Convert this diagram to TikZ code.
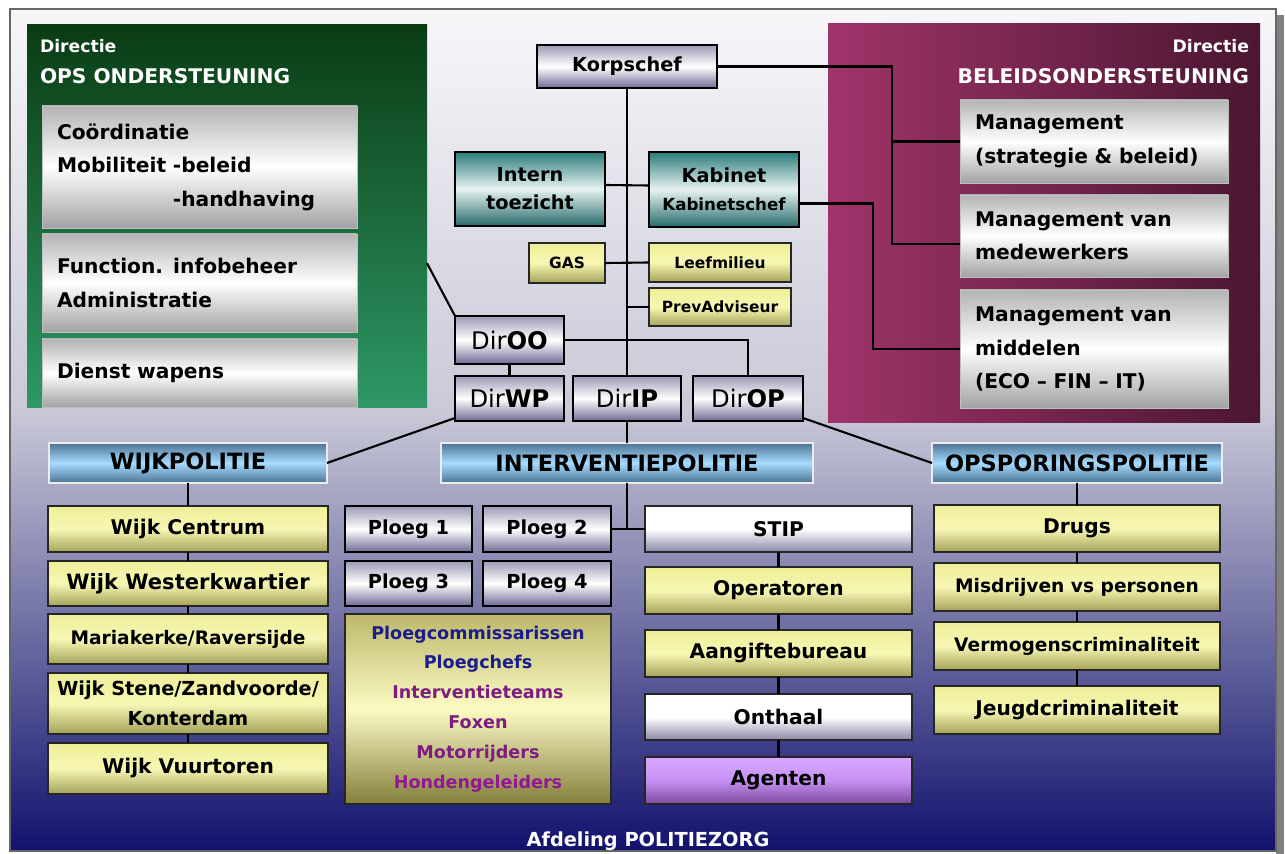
\documentclass[tikz,border=0pt]{standalone}
\usepackage{fontspec}
\setmainfont{DejaVu Sans}
\usetikzlibrary{calc}
\definecolor{navy}{HTML}{12126E}
\definecolor{bgmid}{HTML}{C9C9D8}
\definecolor{bgtop}{HTML}{F7F7FA}
\definecolor{gdark}{HTML}{0A3C14}
\definecolor{glight}{HTML}{2E9866}
\definecolor{mleft}{HTML}{A0346A}
\definecolor{mright}{HTML}{4A1630}
\definecolor{mgray}{HTML}{B4B4B4}
\definecolor{mgray2}{HTML}{A2A2A2}
\definecolor{lavtop}{HTML}{9C9AB6}
\definecolor{lavbot}{HTML}{6E6A94}
\definecolor{tealA}{HTML}{2B7C7A}
\definecolor{tealB}{HTML}{276A6A}
\definecolor{tealmid}{HTML}{E6F3F2}
\definecolor{ytop}{HTML}{EEEE98}
\definecolor{ymid}{HTML}{F7F7B4}
\definecolor{ybot}{HTML}{A4A25A}
\definecolor{bymid}{HTML}{FBFBC4}
\definecolor{bytop}{HTML}{BDB86A}
\definecolor{bybot}{HTML}{857E3C}
\definecolor{bltop}{HTML}{4C7394}
\definecolor{blmid}{HTML}{A6DCFF}
\definecolor{purtop}{HTML}{D8A8FF}
\definecolor{purmid}{HTML}{C690F4}
\definecolor{purbot}{HTML}{7A4A9A}
\definecolor{wbot}{HTML}{8A88A8}
\definecolor{txtblue}{HTML}{1C1C8C}
\definecolor{txtpur}{HTML}{7E1C80}
\newcommand\bx[7]{\node[#2, minimum width={(#5-#3)*0.02cm}, minimum height={(#6-#4)*0.02cm}] (#1) at ({(#3+#5)/2},{(#4+#6)/2}) {#7};}
\begin{document}
\begin{tikzpicture}[x=0.02cm, y=-0.02cm,
  base/.style={inner sep=0pt, outer sep=0pt, text=black, font=\bfseries\fontsize{11.5}{19}\selectfont},
  conn/.style={line width=1.2pt, black},
  pbox/.style={base, top color=mgray, bottom color=mgray2, middle color=white, draw=white!75!black, line width=0.5pt, align=left, text width=5.7cm},
  mbox/.style={pbox, text width=4.76cm},
  lavbox/.style={base, top color=lavtop, bottom color=lavbot, middle color=white, draw=black, line width=1.1pt, font=\bfseries\fontsize{11}{19}\selectfont},
  tealbox/.style={base, top color=tealA, bottom color=tealB, middle color=tealmid, draw=black, line width=1.1pt, align=center, font=\bfseries\fontsize{11}{16}\selectfont},
  ybox/.style={base, top color=ytop, bottom color=ybot, middle color=ymid, draw=black!85, line width=1.1pt, align=center, font=\bfseries\fontsize{11.5}{17}\selectfont},
  ysm/.style={font=\bfseries\fontsize{10.6}{17}\selectfont},
  smallybox/.style={ybox, font=\bfseries\fontsize{8.8}{10}\selectfont},
  bigybox/.style={base, top color=bytop, bottom color=bybot, middle color=bymid, draw=black!85, line width=1.1pt, align=center, font=\bfseries\fontsize{10}{17}\selectfont},
  dirbox/.style={lavbox, font=\fontsize{13.8}{15}\selectfont},
  hbox/.style={base, top color=bltop, bottom color=bltop, middle color=blmid, draw=white!85!gray, line width=0.6pt, font=\bfseries\fontsize{12.8}{14}\selectfont},
  wbox/.style={base, top color=white, bottom color=wbot, middle color=white, draw=black!85, line width=1.1pt},
  abox/.style={base, top color=purtop, bottom color=purbot, middle color=purmid, draw=black!85, line width=1.1pt},
  ptitle/.style={base, text=white, font=\bfseries\fontsize{11.5}{12}\selectfont},
  ptitlesm/.style={base, text=white, font=\bfseries\fontsize{9.8}{11}\selectfont}
]
\useasboundingbox (0,0) rectangle (1285,854);
% background
\fill[white] (0,0) rectangle (1285,854);
\fill[black!50] (1276,15) rectangle (1284,854);
\shade[top color=bgtop, bottom color=bgmid] (10,9) rectangle (1276,410);
\shade[top color=bgmid, bottom color=navy] (10,410) rectangle (1276,851);
\draw[black!60, line width=0.8pt] (10,9) rectangle (1276,851);
% panels
\bx{green}{base, top color=gdark, bottom color=glight}{27}{25}{427}{408}{}
\bx{mag}{base, left color=mleft, right color=mright}{828}{24}{1260}{423}{}
\node[ptitlesm, anchor=west] (gdir) at (40,46) {Directie};
\node[ptitle, anchor=west] (gops) at (40,76) {OPS ONDERSTEUNING};
\node[ptitlesm, anchor=east] (mdir) at (1249,46) {Directie};
\node[ptitle, anchor=east] (mbel) at (1249,76) {BELEIDSONDERSTEUNING};
% left panel boxes
\bx{coord}{pbox}{42}{106}{357}{228}{Coördinatie\\Mobiliteit -beleid\\\phantom{Mobiliteit }-handhaving}
\bx{func}{pbox}{42}{234}{357}{332}{Function. infobeheer\\Administratie}
\bx{wap}{pbox}{42}{339}{357}{407}{Dienst wapens\\[-4pt]}
% right panel boxes
\bx{m1}{mbox}{960}{100}{1228}{183}{Management\\(strategie \& beleid)}
\bx{m2}{mbox}{960}{195}{1228}{277}{Management van\\medewerkers}
\bx{m3}{mbox}{960}{290}{1228}{408}{Management van\\middelen\\(ECO – FIN – IT)}
% centre
\bx{korps}{lavbox}{537}{45}{717}{88}{Korpschef}
\bx{intern}{tealbox}{455}{152}{605}{226}{Intern\\toezicht}
\bx{kab}{tealbox}{649}{152}{799}{227}{Kabinet\\{\fontsize{9.5}{11}\selectfont Kabinetschef}}
\bx{gas}{smallybox}{529}{243}{605}{283}{GAS}
\bx{leef}{smallybox}{649}{243}{791}{282}{Leefmilieu}
\bx{prev}{smallybox}{649}{288}{791}{326}{PrevAdviseur}
\bx{diroo}{dirbox}{455}{316}{564}{364}{Dir\textbf{OO}}
\bx{dirwp}{dirbox}{455}{376}{564}{421}{Dir\textbf{WP}}
\bx{dirip}{dirbox}{573}{376}{681}{421}{Dir\textbf{IP}}
\bx{dirop}{dirbox}{693}{376}{803}{421}{Dir\textbf{OP}}
% headers
\bx{wijkp}{hbox}{49}{443}{327}{483}{WIJKPOLITIE}
\bx{interv}{hbox}{441}{443}{813}{483}{INTERVENTIEPOLITIE}
\bx{opsp}{hbox}{932}{443}{1222}{483}{OPSPORINGSPOLITIE}
% wijk
\bx{wc}{ybox}{48}{506}{328}{552}{Wijk Centrum}
\bx{ww}{ybox, font=\bfseries\fontsize{12}{17}\selectfont}{48}{561}{328}{606}{Wijk Westerkwartier}
\bx{wm}{ybox, ysm}{48}{614}{328}{664}{Mariakerke/Raversijde}
\bx{ws}{ybox, font=\bfseries\fontsize{11}{17}\selectfont}{48}{673}{328}{734}{Wijk Stene/Zandvoorde/\\Konterdam}
\bx{wv}{ybox}{48}{743}{328}{794}{Wijk Vuurtoren}
% ploegen
\bx{p1}{lavbox}{345}{506}{472}{552}{Ploeg 1}
\bx{p2}{lavbox}{483}{506}{611}{552}{Ploeg 2}
\bx{p3}{lavbox}{345}{561}{472}{606}{Ploeg 3}
\bx{p4}{lavbox}{483}{561}{611}{606}{Ploeg 4}
\bx{teams}{bigybox}{345}{614}{611}{804}{\textcolor{txtblue}{Ploegcommissarissen}\\\textcolor{txtblue}{Ploegchefs}\\\textcolor{txtpur}{Interventieteams}\\\textcolor{txtpur}{Foxen}\\\textcolor{txtpur}{Motorrijders}\\\textcolor{txtpur!85!magenta}{Hondengeleiders}}
% stip
\bx{stip}{wbox}{645}{506}{912}{552}{STIP}
\bx{oper}{ybox}{645}{567}{912}{614}{Operatoren}
\bx{aang}{ybox}{645}{630}{912}{677}{Aangiftebureau}
\bx{onth}{wbox}{645}{694}{912}{740}{Onthaal}
\bx{agent}{abox}{645}{757}{912}{804}{Agenten}
% opsporing
\bx{drugs}{ybox}{934}{505}{1220}{552}{Drugs}
\bx{misd}{ybox, ysm}{934}{563}{1220}{611}{Misdrijven vs personen}
\bx{verm}{ybox, ysm}{934}{622}{1220}{670}{Vermogenscriminaliteit}
\bx{jeugd}{ybox}{934}{686}{1220}{734}{Jeugdcriminaliteit}
% footer
\node[ptitle, font=\bfseries\fontsize{11}{12}\selectfont] (foot) at (648,841) {Afdeling POLITIEZORG};
% connectors
\coordinate (kx) at (892,0);
\coordinate (kx2) at (873,0);
\draw[conn] (korps.south) -- (dirip.north);
\draw[conn] (dirip.south) -- (interv.north);
\draw[conn] ($(intern.east)+(0,-4)$) -- ($(kab.west)+(0,-4)$);
\draw[conn] (gas.east) -- (leef.west);
\draw[conn] (prev.west) -- (prev.west -| korps.south);
\draw[conn] (diroo.east) -| (dirop.north);
\draw[conn] (diroo.south) -- (dirwp.north);
\draw[conn] ($(green.north east)!0.622!(green.south east)$) -- (diroo.north west);
\draw[conn] (korps.east) -| ($(kx |- m2.west)+(0,8)$) -- ($(m2.west)+(0,8)$);
\draw[conn] (kx |- m1.west) -- (m1.west);
\draw[conn] ($(kab.east)+(0,14)$) -| (kx2 |- m3.west) -- (m3.west);
\draw[conn] ($(dirwp.south west)+(0,-3)$) -- (wijkp.east);
\draw[conn] ($(dirop.south east)+(0,-3)$) -- (opsp.west);
\draw[conn] (wijkp.south) -- (wc.north);
\draw[conn] (wc.south) -- (ww.north);
\draw[conn] (ww.south) -- (wm.north);
\draw[conn] (wm.south) -- (ws.north);
\draw[conn] (ws.south) -- (wv.north);
\draw[conn] (interv.south) -- (interv.south |- stip.west);
\draw[conn] (p2.east) -- (stip.west);
\draw[conn] (stip.south) -- (oper.north);
\draw[conn] (oper.south) -- (aang.north);
\draw[conn] (aang.south) -- (onth.north);
\draw[conn] (onth.south) -- (agent.north);
\draw[conn] (opsp.south) -- (drugs.north);
\draw[conn] (drugs.south) -- (misd.north);
\draw[conn] (misd.south) -- (verm.north);
\draw[conn] (verm.south) -- (jeugd.north);
\end{tikzpicture}
\end{document}
